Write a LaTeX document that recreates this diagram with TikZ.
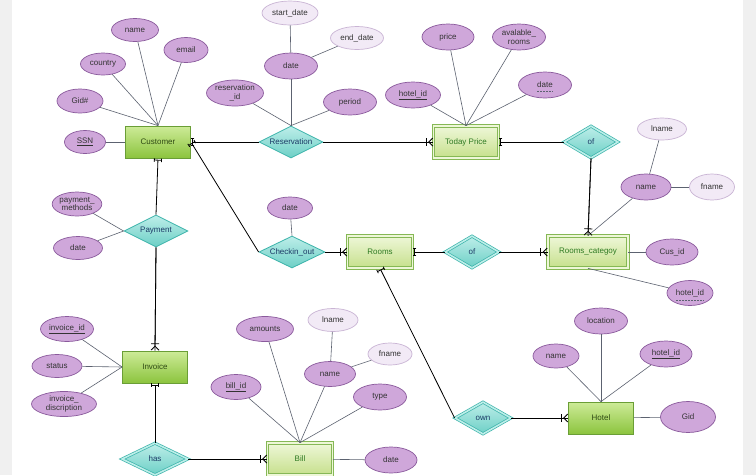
\documentclass[tikz,border=0pt]{standalone}
\usepackage{fontspec}
\setmainfont{Liberation Sans}
\usetikzlibrary{shapes.geometric,arrows.meta,calc}
\definecolor{pagegray}{HTML}{F0F0F0}
\definecolor{enttop}{HTML}{CDEB98}
\definecolor{entbot}{HTML}{8CC43E}
\definecolor{entedge}{HTML}{6A9E36}
\definecolor{enttext}{HTML}{2F4A14}
\definecolor{weaktop}{HTML}{EEF7D8}
\definecolor{weakbot}{HTML}{C6E08C}
\definecolor{weakedge}{HTML}{86B856}
\definecolor{weaktext}{HTML}{2E7A22}
\definecolor{reltop}{HTML}{BDEEE9}
\definecolor{relbot}{HTML}{6DCFC6}
\definecolor{reledge}{HTML}{3BB3AA}
\definecolor{reltext}{HTML}{1C3A66}
\definecolor{attrfill}{HTML}{CFA7DA}
\definecolor{attredge}{HTML}{8A5A9C}
\definecolor{litefill}{HTML}{F2EAF6}
\definecolor{liteedge}{HTML}{C9B4D4}
\definecolor{linkgray}{HTML}{5C6270}
\tikzset{
  entity/.style={rectangle,draw=entedge,line width=0.8pt,top color=enttop,bottom color=entbot,
                 minimum width=65pt,minimum height=32pt,inner sep=0,text=enttext},
  % weak entities get a double frame
  weak/.style={entity,draw=weakedge,top color=weaktop,bottom color=weakbot,line width=0.7pt,
               double=weaktop,double distance=1.8pt,text=weaktext},
  rel/.style={diamond,aspect=2,draw=reledge,line width=0.8pt,top color=reltop,bottom color=relbot,
              minimum width=64pt,minimum height=32pt,inner sep=0,text=reltext},
  idrel/.style={rel,minimum width=54pt,line width=0.7pt,double=reltop,double distance=1.6pt},
  attr/.style={ellipse,draw=attredge,line width=0.7pt,fill=attrfill,minimum width=50pt,
               minimum height=25pt,inner sep=0,align=center,text=black!80},
  attrlt/.style={attr,draw=liteedge,fill=litefill},
  link/.style={draw=linkgray,line width=0.6pt},
  conn/.style={draw=black,line width=0.8pt},
  partkey/.style={draw=linkgray,line width=0.4pt,dash pattern=on 1.5pt off 1.5pt},
  one/.style={-{Tee Barb[length=3.5pt,width=8pt]}},
  many/.style={postaction={draw,-{Bar[width=8pt,sep=1.5pt]Straight Barb[reversed,length=4pt,width=8pt]}}},
}
\begin{document}
\begin{tikzpicture}[x=1pt,y=-1pt,font=\fontsize{8}{8.5}\selectfont]
  \useasboundingbox (0,0) rectangle (756,475);
  \fill[white] (0,0) rectangle (756,475);
  \fill[pagegray] (0,0) rectangle (12,475);
  \fill[pagegray] (743,0) rectangle (756,475);

  % entities and relationships
  \node[entity] (cust) at (158,142) {Customer};
  \node[weak] (today) at (466,142) {Today Price};
  \node[weak] (rooms) at (380,252) {Rooms};
  \node[weak,minimum width=80pt] (rcat) at (588,252) {Rooms\_categoy};
  \node[entity] (inv) at (155,367) {Invoice};
  \node[weak] (bill) at (300,459) {Bill};
  \node[entity] (hotel) at (601,418) {Hotel};

  \node[rel] (resv) at (291,142) {Reservation};
  \node[idrel] (oftop) at (591,142) {of};
  \node[rel] (pay) at (156,231) {Payment};
  \node[rel,minimum width=66pt] (chk) at (292,252) {Checkin\_out};
  \node[idrel] (ofmid) at (472,252) {of};
  \node[idrel,minimum width=56pt] (own) at (483,418) {own};
  \node[idrel,minimum width=66pt] (has) at (155,459) {has};

  % attributes
  \node[attr,minimum width=47pt,minimum height=23pt] (cname) at (135,30) {name};
  \node[attr,minimum width=44pt] (cemail) at (186,50) {email};
  \node[attr,minimum width=45pt,minimum height=22pt] (ccountry) at (103,64) {country};
  \node[attr,minimum width=46pt,minimum height=24pt] (cgid) at (80,101) {Gid\#};
  \node[attr,minimum width=41pt,minimum height=23pt] (cssn) at (85,142) {\underline{SSN}};

  \node[attrlt,minimum width=56pt,minimum height=24pt] (rstart) at (290,13) {start\_date};
  \node[attrlt,minimum width=53pt,minimum height=23pt] (rend) at (357,38) {end\_date};
  \node[attr,minimum width=53pt,minimum height=26pt] (rdate) at (291,66) {date};
  \node[attr,minimum width=57pt,minimum height=26pt] (rid) at (235,93) {reservation\\\_id};
  \node[attr,minimum width=53pt,minimum height=26pt] (rperiod) at (350,102) {period};

  \node[attr,minimum width=52pt,minimum height=26pt] (tprice) at (448,37) {price};
  \node[attr,minimum width=53pt,minimum height=26pt] (tavail) at (519,37) {avalable\_\\rooms};
  \node[attr,minimum width=53pt,minimum height=26pt] (tdate) at (545,85) {date};
  \node[attr,minimum width=55pt,minimum height=26pt] (thotel) at (413,95) {\underline{hotel\_id}};

  \node[attrlt,minimum width=49pt,minimum height=22pt] (klname) at (662,129) {lname};
  \node[attr,minimum height=26pt] (kname) at (646,187) {name};
  \node[attrlt,minimum width=45pt,minimum height=26pt] (kfname) at (712,187) {fname};
  \node[attr,minimum width=52pt,minimum height=26pt] (kcus) at (672,252) {Cus\_id};
  \node[attr,minimum width=46pt] (khotel) at (690,293) {hotel\_id};

  \node[attr,minimum width=45pt,minimum height=22pt] (chdate) at (290,208) {date};

  \node[attr,minimum width=46pt,minimum height=24pt] (ppm) at (77,204) {payment\_\\methods};
  \node[attr,minimum width=49pt,minimum height=23pt] (pdate) at (78,248) {date};

  \node[attr,minimum width=53pt] (iid) at (67,329) {\underline{invoice\_id}};
  \node[attr,minimum height=23pt] (istat) at (57,366) {status};
  \node[attr,minimum width=65pt] (idesc) at (64,404) {invoice\_\\discription};

  \node[attr,minimum width=57pt] (bamt) at (265,329) {amounts};
  \node[attrlt,minimum height=23pt] (blname) at (333,320) {lname};
  \node[attrlt,minimum width=44pt,minimum height=22pt] (bfname) at (390,354) {fname};
  \node[attr,minimum width=51pt] (bname) at (330,374) {name};
  \node[attr] (bid) at (236,387) {\underline{bill\_id}};
  \node[attr,minimum width=53pt,minimum height=26pt] (btype) at (380,397) {type};
  \node[attr,minimum width=52pt,minimum height=26pt] (bdate) at (391,460) {date};

  \node[attr,minimum width=53pt,minimum height=26pt] (hloc) at (601,321) {location};
  \node[attr,minimum width=46pt,minimum height=24pt] (hname) at (556,356) {name};
  \node[attr,minimum width=52pt,minimum height=26pt] (hid) at (666,354) {\underline{hotel\_id}};
  \node[attr,minimum width=55pt,minimum height=31pt] (hgid) at (688,417) {Gid};

  % partial keys
  \draw[partkey] ($(tdate.center)+(-8,6)$) -- ++(16,0);
  \draw[partkey] ($(khotel.center)+(-14,7)$) -- ++(28,0);

  % attribute links
  \foreach \a in {cname,cemail,ccountry,cgid} \draw[link] (\a) -- (cust.north);
  \draw[link] (cssn) -- (cust);
  \draw[link] (rstart) -- (rdate);
  \draw[link] (rend) -- (rdate);
  \foreach \a in {rdate,rid,rperiod} \draw[link] (\a) -- (resv.north);
  \foreach \a in {tprice,tavail,tdate,thotel} \draw[link] (\a) -- (today.north);
  \draw[link] (klname) -- (kname);
  \draw[link] (kfname) -- (kname);
  \draw[link] (kname) -- (rcat.north);
  \draw[link] (kcus) -- (rcat);
  \draw[link] (khotel) -- (rcat.south);
  \draw[link] (chdate) -- (chk.north);
  \foreach \a in {ppm,pdate} \draw[link] (\a) -- (pay.west);
  \foreach \a in {iid,istat,idesc} \draw[link] (\a) -- (inv.west);
  \draw[link] (blname) -- (bname);
  \draw[link] (bfname) -- (bname);
  \foreach \a in {bamt,bname,bid,btype} \draw[link] (\a) -- (bill.north);
  \draw[link] (bdate) -- (bill);
  \foreach \a in {hloc,hname,hid} \draw[link] (\a) -- (hotel.north);
  \draw[link] (hgid) -- (hotel);

  % relationship connectors
  \draw[conn,one] (resv.west) -- (cust.east);
  \draw[conn,many] (resv.east) -- (today.west);
  \draw[conn,one] (oftop.west) -- (today.east);
  \draw[conn,many] (oftop.south) -- (rcat.north);
  \draw[conn,one] (chk.west) -- (cust.east);
  \draw[conn,many] (chk.east) -- (rooms.west);
  \draw[conn,one] (ofmid.west) -- (rooms.east);
  \draw[conn,many] (ofmid.east) -- (rcat.west);
  \draw[conn,one] (own.west) -- (rooms.south);
  \draw[conn,many] (own.east) -- (hotel.west);
  \draw[conn,one] (pay.north) -- (cust.south);
  \draw[conn,many] (pay.south) -- (inv.north);
  \draw[conn,one] (has.north) -- (inv.south);
  \draw[conn,many] (has.east) -- (bill.west);
\end{tikzpicture}
\end{document}
